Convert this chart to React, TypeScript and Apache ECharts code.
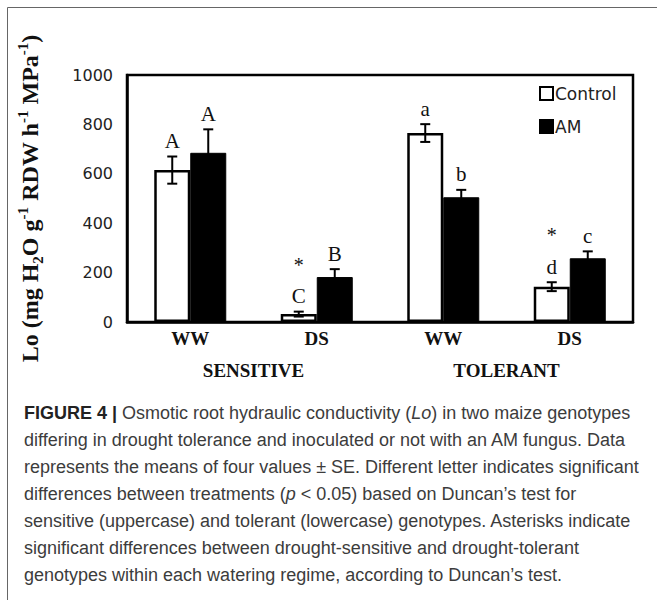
import React, { useEffect, useRef } from 'react';
import * as echarts from 'echarts';

// ---- data ----
const groups = ['WW', 'DS', 'WW', 'DS'];
const genotypes = ['SENSITIVE', 'TOLERANT'];
const seriesNames = ['Control', 'AM'];
const controlValues = [615, 32, 765, 143];
const controlErrors = [55, 10, 36, 18];
const amValues = [685, 182, 505, 258];
const amErrors = [95, 32, 30, 28];
const controlLetters = ['A', 'C', 'a', 'd'];
const amLetters = ['A', 'B', 'b', 'c'];
const controlStars = ['', '*', '', '*'];
const amStars = ['', '', '', ''];
const yMin = 0;
const yMax = 1000;
const yStep = 200;

const captionLines = [
  '{b|FIGURE 4 |} Osmotic root hydraulic conductivity ({i|Lo}) in two maize genotypes',
  'differing in drought tolerance and inoculated or not with an AM fungus. Data',
  'represents the means of four values ± SE. Different letter indicates significant',
  'differences between treatments ({i|p} < 0.05) based on Duncan’s test for',
  'sensitive (uppercase) and tolerant (lowercase) genotypes. Asterisks indicate',
  'significant differences between drought-sensitive and drought-tolerant',
  'genotypes within each watering regime, according to Duncan’s test.',
];

const BAR_W = 36;
const SERIF = '"Liberation Serif", "Times New Roman", serif';
const SANS = '"DejaVu Sans", sans-serif';
const CAP_FONT = '"Liberation Sans", Arial, sans-serif';
const CAP_SIZE = 18;

function errorSeries(values: number[], errors: number[], letters: string[], stars: string[], offset: number) {
  return {
    type: 'custom',
    xAxisIndex: 0,
    yAxisIndex: 0,
    silent: true,
    z: 10,
    data: values.map((v, i) => [i, v, errors[i]]),
    renderItem: (params: any, api: any) => {
      const i = api.value(0);
      const v = api.value(1);
      const e = api.value(2);
      const idx = params.dataIndex;
      const letter = letters[idx];
      const star = stars[idx];
      const top = api.coord([i, v + e]);
      const bot = api.coord([i, v - e]);
      const x = top[0] + offset;
      const lineStyle = { stroke: '#000', lineWidth: 2 };
      const children: any[] = [
        { type: 'line', shape: { x1: x, y1: top[1], x2: x, y2: bot[1] }, style: lineStyle },
        { type: 'line', shape: { x1: x - 5, y1: top[1], x2: x + 5, y2: top[1] }, style: lineStyle },
        { type: 'line', shape: { x1: x - 5, y1: bot[1], x2: x + 5, y2: bot[1] }, style: lineStyle },
        {
          type: 'text',
          x: x,
          y: top[1] - 5,
          style: {
            text: letter,
            font: `21px ${SERIF}`,
            fill: '#111',
            textAlign: 'center',
            textVerticalAlign: 'bottom',
          },
        },
      ];
      if (star) {
        children.push({
          type: 'text',
          x: x,
          y: top[1] - 37,
          style: {
            text: star,
            font: `20px ${SERIF}`,
            fill: '#111',
            textAlign: 'center',
            textVerticalAlign: 'bottom',
          },
        });
      }
      return { type: 'group', children };
    },
  };
}

export default function App() {
  const ref = useRef<HTMLDivElement>(null);
  useEffect(() => {
    if (!ref.current) return;
    const chart = echarts.init(ref.current, undefined, { renderer: 'svg' });
    const option: any = {
      animation: false,
      backgroundColor: '#fff',
      grid: {
        left: 127,
        right: 24,
        top: 75,
        bottom: 278,
        show: true,
        borderColor: '#000',
        borderWidth: 2.5,
        backgroundColor: 'transparent',
      },
      legend: {
        data: seriesNames,
        orient: 'vertical',
        left: 534,
        top: 80,
        itemWidth: 13,
        itemHeight: 13,
        itemGap: 16,
        icon: 'rect',
        textStyle: { fontFamily: SANS, fontSize: 17, color: '#222', padding: [0, 0, 0, -3] },
      },
      xAxis: [
        {
          type: 'category',
          data: groups,
          gridIndex: 0,
          axisLine: { lineStyle: { color: '#000', width: 2.5 } },
          axisTick: { show: false },
          axisLabel: {
            margin: 7,
            fontFamily: SERIF,
            fontWeight: 'bold',
            fontSize: 19,
            color: '#111',
          },
        },
        {
          type: 'category',
          data: genotypes,
          gridIndex: 0,
          position: 'bottom',
          offset: 31,
          axisLine: { show: false },
          axisTick: { show: false },
          axisLabel: {
            margin: 8,
            fontFamily: SERIF,
            fontWeight: 'bold',
            fontSize: 19,
            color: '#111',
          },
        },
      ],
      yAxis: {
        type: 'value',
        min: yMin,
        max: yMax,
        interval: yStep,
        axisLine: { show: true, lineStyle: { color: '#000', width: 2.5 } },
        axisTick: { show: false },
        splitLine: { show: false },
        axisLabel: {
          margin: 14,
          fontFamily: SANS,
          fontSize: 16,
          color: '#222',
          formatter: (v: number) => String(v),
        },
        name: '{n|Lo (mg H}{sub|2}{n|O g}{sup|-1}{n| RDW h}{sup|-1}{n| MPa}{sup|-1}{n|)}',
        nameLocation: 'middle',
        nameRotate: 90,
        nameGap: 82,
        nameTextStyle: {
          rich: {
            n: { fontFamily: SERIF, fontWeight: 'bold', fontSize: 24, color: '#111', lineHeight: 30, verticalAlign: 'middle' },
            sup: { fontFamily: SERIF, fontWeight: 'bold', fontSize: 15, color: '#111', lineHeight: 15, verticalAlign: 'top' },
            sub: { fontFamily: SERIF, fontWeight: 'bold', fontSize: 15, color: '#111', lineHeight: 15, verticalAlign: 'bottom' },
          },
        },
      },
      graphic: [
        { type: 'line', shape: { x1: 7.5, y1: 7.5, x2: 657, y2: 7.5 }, style: { stroke: '#666', lineWidth: 1 } },
        { type: 'line', shape: { x1: 7.5, y1: 7.5, x2: 7.5, y2: 600 }, style: { stroke: '#666', lineWidth: 1 } },
        {
          type: 'text',
          left: 24,
          top: 399,
          style: {
            text: captionLines.join('\n'),
            font: `${CAP_SIZE}px ${CAP_FONT}`,
            fill: '#3c3c3c',
            lineHeight: 27,
            rich: {
              b: { fontFamily: CAP_FONT, fontWeight: 'bold', fontSize: CAP_SIZE, fill: '#222', lineHeight: 27 },
              i: { fontFamily: CAP_FONT, fontStyle: 'italic', fontSize: CAP_SIZE, fill: '#3c3c3c', lineHeight: 27 },
            },
          },
        },
      ],
      series: [
        {
          name: 'Control',
          type: 'bar',
          data: controlValues,
          barWidth: BAR_W,
          barGap: '0%',
          itemStyle: { color: '#fff', borderColor: '#000', borderWidth: 2.5 },
        },
        {
          name: 'AM',
          type: 'bar',
          data: amValues,
          barWidth: BAR_W,
          barGap: '0%',
          itemStyle: { color: '#000', borderColor: '#000', borderWidth: 1 },
        },
        errorSeries(controlValues, controlErrors, controlLetters, controlStars, -BAR_W / 2),
        errorSeries(amValues, amErrors, amLetters, amStars, BAR_W / 2),
      ],
    };
    chart.setOption(option);
    return () => chart.dispose();
  }, []);
  return <div ref={ref} style={{ position: 'absolute', left: 0, top: 0, width: 657, height: 600 }} />;
}
